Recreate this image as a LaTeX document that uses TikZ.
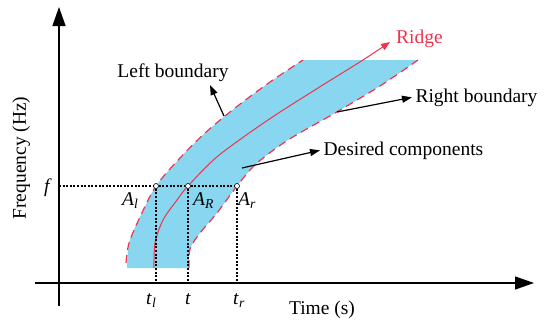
\documentclass[tikz,border=0pt]{standalone}
\usepackage{fontspec}
\setmainfont{Liberation Serif}
\usetikzlibrary{arrows.meta}
\definecolor{mRidgeRed}{HTML}{F0334D}
\definecolor{mBandBlue}{HTML}{88D6F0}
\newcommand{\itsub}[2]{\textit{#1}\textsubscript{\textit{#2}}}

\begin{document}
\begin{tikzpicture}[x=1pt, y=-1pt, font=\fontsize{19.5}{22}\selectfont,
  axis/.style={line width=1.3pt, -{Triangle[length=19pt, width=13pt]}},
  guide/.style={line width=1.1pt, dash pattern=on 2pt off 1.6pt},
  bound/.style={mRidgeRed, line width=1.2pt, dash pattern=on 8pt off 5pt},
  ridge/.style={mRidgeRed, line width=1pt, -{Triangle[length=9pt, width=7pt]}},
  callout/.style={line width=1.2pt, -{Triangle[length=10pt, width=7pt]}},
  hit/.style={circle, draw, fill=white, line width=0.6pt, inner sep=0pt, minimum size=5pt}]
\useasboundingbox (0,0) rectangle (550,330);
% band of the desired components
\fill[mBandBlue] plot[smooth] coordinates {(127,268) (129,243) (140,217) (156,186) (180,158) (205,133) (235,108) (270,82) (303,60)}
  -- plot[smooth] coordinates {(418,60) (380,86) (335,113) (288,140) (256,164) (237,186) (217,213) (200,233) (190,249) (189,268)} -- cycle;
\draw[bound] plot[smooth] coordinates {(126,263) (129,243) (140,217) (156,186) (180,158) (205,133) (235,108) (270,82) (303,60)};
\draw[bound] plot[smooth] coordinates {(189,268) (190,249) (200,233) (217,213) (237,186) (256,164) (288,140) (335,113) (380,86) (418,60)};
\draw[ridge] plot[smooth] coordinates {(154,268) (155,243) (163,220) (177,200) (188,186) (218,156) (268,120) (318,88) (363,60) (390,42)};
% axes
\coordinate (o) at (59,283);
\draw[axis] (35,283) -- (534,283);
\draw[axis] (59,306) -- (59,7);
% points on the ridge line at f
\node[hit] (Al) at (156,186) {};
\node[hit] (AR) at (188,186) {};
\node[hit] (Ar) at (237,186) {};
\draw[guide] (o |- Al) -- (Al) -- (AR) -- (Ar);
\draw[guide] (Al) -- (Al |- o);
\draw[guide] (AR) -- (AR |- o);
\draw[guide] (Ar) -- (Ar |- o);
% labels
\node[anchor=base, rotate=90] (ylab) at (26,158) {Frequency (Hz)};
\node[anchor=base] (xlab) at (322,314) {Time (s)};
\node (f) at (48,188) {\textit{f}};
\node[anchor=base west, inner sep=0pt] (tl) at (146,304) {\itsub{t}{l}};
\node[anchor=base west, inner sep=0pt] (t) at (185,304) {\textit{t}};
\node[anchor=base west, inner sep=0pt] (tr) at (233,304) {\itsub{t}{r}};
\node[anchor=base west, inner sep=0pt] (Altxt) at (122,205) {\itsub{A}{l}};
\node[anchor=base west, inner sep=0pt] (ARtxt) at (193,205) {\itsub{A}{R}};
\node[anchor=base west, inner sep=0pt] (Artxt) at (238,205) {\itsub{A}{r}};
\node[anchor=base west, inner sep=0pt] (ridgetxt) at (396,43) {\textcolor{mRidgeRed}{Ridge}};
\node[anchor=base] (lbtxt) at (173,77) {Left boundary};
\node[anchor=base west] (rbtxt) at (412,102) {Right boundary};
\node[anchor=base west] (dctxt) at (320,155) {Desired components};
% callouts
\coordinate (lbFoot) at (224,116);
\coordinate (lbTip) at (210,85);
\coordinate (rbFoot) at (337,112);
\coordinate (dcFoot) at (242,168);
\draw[callout] (lbFoot) -- (lbTip);
\draw[callout] (rbFoot) -- (rbtxt.west);
\draw[callout] (dcFoot) -- (dctxt.west);
\end{tikzpicture}
\end{document}
